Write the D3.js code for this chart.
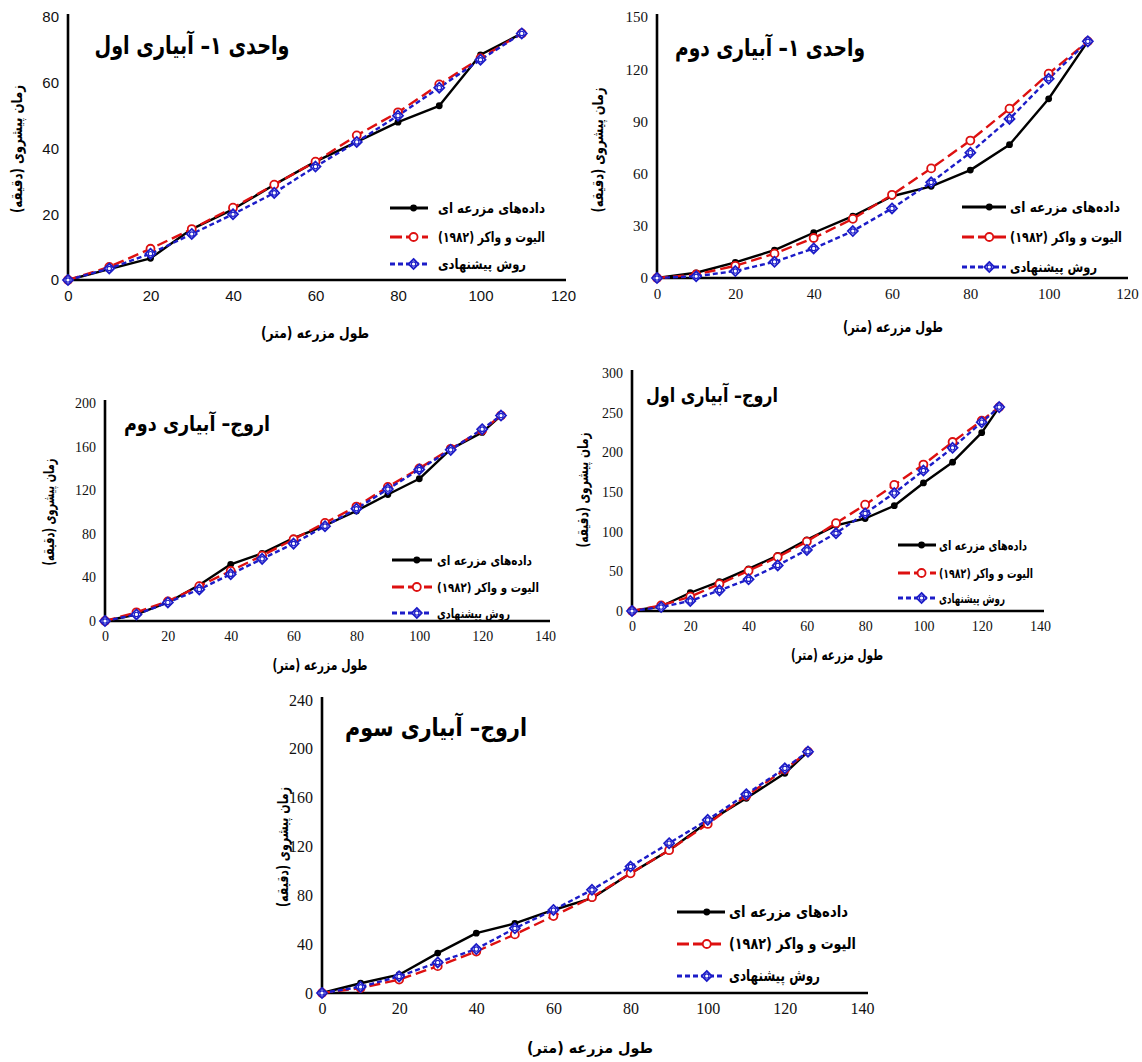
<!DOCTYPE html>
<html><head><meta charset="utf-8">
<script src="https://cdn.jsdelivr.net/npm/d3@7"></script>
<style>body{margin:0;background:#fff}svg{display:block}</style>
</head><body>
<svg id="c" width="1142" height="1062"></svg>
<script>
// ---------- DATA ----------
const xVahed = [0,10,20,30,40,50,60,70,80,90,100,110];
const xOroj  = [0,10,20,30,40,50,60,70,80,90,100,110,120,126];

// واحدی ۱ - آبیاری اول
const p1Field = [0,3.3,6.6,15.5,21.5,29,36,42,48,53,68.5,75];
const p1EW    = [0,4,9.5,15.5,22,29,36,44,51,59.5,67.5,75];
const p1Prop  = [0,3.5,8,14,20,26.5,34.5,42,50,58.5,67,75];
// واحدی ۱ - آبیاری دوم
const p2Field = [0,3,9,16,26,35.5,47,52.7,62,76.6,103,136];
const p2EW    = [0,2,7,14,23,34,47.8,63,79,97.3,117.4,136];
const p2Prop  = [0,1,4,9.3,17,27,40,55,72,91.4,114.5,136];
// اروج - آبیاری دوم
const p3Field = [0,6,17,33,52,62,76,87.6,101,116,130.5,157.7,173,188.5];
const p3EW    = [0,8,18,32,46,60,75,90,105,123,140,158,175,188.5];
const p3Prop  = [0,6,17,29,43,57,71,87,103,121,139,157,176,188.5];
// اروج - آبیاری اول
const p4Field = [0,6,23,37,53,70,89.6,108,116.6,132.7,161.4,187.6,224.8,257];
const p4EW    = [0,7,18,34,50.7,68,87.5,110.7,134,158.9,184.6,213,240,257];
const p4Prop  = [0,5,12.7,26,40,57.5,77,98,123,148.7,177,205.7,238,257];
// اروج - آبیاری سوم
const p5Field = [0,8,15,32.7,49,57,68,77.7,98,117,140,159.5,180,197.7];
const p5EW    = [0,4,11,22,34,48,63,78.5,98,117,138.5,161.5,183,197.7];
const p5Prop  = [0,5,13.6,25,36,53,68,84.5,103.6,122.7,141.8,162.8,184,197.7];

const yTicks1 = [0,20,40,60,80];
const yTicks2 = [0,30,60,90,120,150];
const yTicks3 = [0,40,80,120,160,200];
const yTicks4 = [0,50,100,150,200,250,300];
const yTicks5 = [0,40,80,120,160,200,240];
const xTicksV = [0,20,40,60,80,100,120];
const xTicksO = [0,20,40,60,80,100,120,140];

const titles = ["واحدی ۱– آبیاری اول","واحدی ۱– آبیاری دوم","اروج– آبیاری دوم","اروج– آبیاری اول","اروج– آبیاری سوم"];
const seriesNames = ["داده‌های مزرعه ای","الیوت و واکر (۱۹۸۲)","روش پیشنهادی"];
const xLabel = "طول مزرعه (متر)";
const yLabel = "زمان پیشروی (دقیقه)";

// ---------- LAYOUT ----------
const panels = [
  {x:xVahed, ys:[p1Field,p1EW,p1Prop], xd:120, yd:80, xt:xTicksV, yt:yTicks1, title:titles[0],
   L:68, R:563, T:17, B:280, axEnd:566, tickFont:"Liberation Sans", tickSize:15,
   tx:192, ty:54, ts:25, tw:195, ylx:22, yly:149, ylw:128, xlx:315, xly:338, xlw:108,
   lgX:390, lgL:38, lgT:438, lgW:[107,107,88], lgY:[208,237,264], lgS:14},
  {x:xVahed, ys:[p2Field,p2EW,p2Prop], xd:120, yd:150, xt:xTicksV, yt:yTicks2, title:titles[1],
   L:657, R:1127, T:17, B:278, axEnd:1128, tickFont:"Liberation Serif", tickSize:15,
   tx:770, ty:56, ts:24, tw:190, ylx:603, yly:150, ylw:125, xlx:893, xly:332, xlw:100,
   lgX:962, lgL:44, lgT:1010, lgW:[110,112,87], lgY:[207,237,267], lgS:14},
  {x:xOroj, ys:[p3Field,p3EW,p3Prop], xd:140, yd:200, xt:xTicksO, yt:yTicks3, title:titles[2],
   L:105, R:545, T:403, B:621, axEnd:550, tickFont:"Liberation Serif", tickSize:14,
   tx:197, ty:431, ts:21, tw:146, ylx:54, yly:512, ylw:107, xlx:320, xly:670, xlw:95,
   lgX:392, lgL:40, lgT:437, lgW:[95,102,73], lgY:[560,587,613], lgS:13},
  {x:xOroj, ys:[p4Field,p4EW,p4Prop], xd:140, yd:300, xt:xTicksO, yt:yTicks4, title:titles[3],
   L:632, R:1040, T:373, B:611, axEnd:1044, tickFont:"Liberation Serif", tickSize:14,
   tx:712, ty:402, ts:20, tw:132, ylx:588, yly:490, ylw:115, xlx:837, xly:660, xlw:92,
   lgX:898, lgL:38, lgT:939, lgW:[88,94,66], lgY:[545,573,598], lgS:13},
  {x:xOroj, ys:[p5Field,p5EW,p5Prop], xd:140, yd:240, xt:xTicksO, yt:yTicks5, title:titles[4],
   L:322, R:862, T:700, B:993, axEnd:868, tickFont:"Liberation Serif", tickSize:16,
   tx:436, ty:736, ts:25, tw:182, ylx:288, yly:847, ylw:120, xlx:590, xly:1053, xlw:126,
   lgX:677, lgL:48, lgT:729, lgW:[119,127,91], lgY:[912,944,976], lgS:16}
];

const styles = [
  {color:"#000000", dash:null, w:2.4, marker:"dot"},
  {color:"#dd1010", dash:"11,5", w:2.4, marker:"circle"},
  {color:"#1c1cc8", dash:"5,3", w:2.4, marker:"diamond"}
];
const faFont = "'DejaVu Sans', sans-serif";

const svg = d3.select("#c");

function drawMarker(g, type, cx, cy, st) {
  const r = 4;
  if (type==="dot") {
    g.append("circle").attr("cx",cx).attr("cy",cy).attr("r",3.4).attr("fill",st.color);
  } else if (type==="circle") {
    g.append("circle").attr("cx",cx).attr("cy",cy).attr("r",r).attr("fill","#fff")
      .attr("stroke",st.color).attr("stroke-width",1.8);
  } else {
    g.append("path").attr("d",`M${cx},${cy-r-1}L${cx+r+1},${cy}L${cx},${cy+r+1}L${cx-r-1},${cy}Z`)
      .attr("fill","#fff").attr("stroke",st.color).attr("stroke-width",1.8);
    g.append("circle").attr("cx",cx).attr("cy",cy).attr("r",r*0.55).attr("fill","none")
      .attr("stroke",st.color).attr("stroke-width",1.2);
  }
}

function faText(g, x, y, str, size, width, anchor) {
  return g.append("text").attr("x",x).attr("y",y).attr("text-anchor",anchor||"middle")
    .attr("font-family",faFont).attr("font-weight","bold").attr("font-size",size)
    .attr("fill","#000").attr("textLength",width).attr("lengthAdjust","spacingAndGlyphs")
    .text(str);
}

panels.forEach(p => {
  const g = svg.append("g");
  const xs = d3.scaleLinear().domain([0,p.xd]).range([p.L,p.R]);
  const ys = d3.scaleLinear().domain([0,p.yd]).range([p.B,p.T]);

  // tick labels
  const ax = g.append("g").attr("transform",`translate(0,${p.B})`)
    .call(d3.axisBottom(xs).tickValues(p.xt).tickSize(0).tickPadding(10));
  ax.select(".domain").remove();
  ax.selectAll("text").attr("font-family",p.tickFont).attr("font-size",p.tickSize).attr("fill","#111");
  const ay = g.append("g").attr("transform",`translate(${p.L},0)`)
    .call(d3.axisLeft(ys).tickValues(p.yt).tickSize(0).tickPadding(9));
  ay.select(".domain").remove();
  ay.selectAll("text").attr("font-family",p.tickFont).attr("font-size",p.tickSize).attr("fill","#111");

  // axis lines
  g.append("line").attr("x1",p.L).attr("x2",p.L).attr("y1",p.T-3).attr("y2",p.B+1)
    .attr("stroke","#000").attr("stroke-width",2.6);
  g.append("line").attr("x1",p.L).attr("x2",p.axEnd).attr("y1",p.B).attr("y2",p.B)
    .attr("stroke","#000").attr("stroke-width",2.6);

  // series
  const line = d3.line().x((d,i)=>xs(p.x[i])).y(d=>ys(d));
  p.ys.forEach((vals,si) => {
    const st = styles[si];
    g.append("path").datum(vals).attr("d",line).attr("fill","none")
      .attr("stroke",st.color).attr("stroke-width",st.w)
      .attr("stroke-dasharray",st.dash).attr("stroke-linejoin","round");
  });
  p.ys.forEach((vals,si) => {
    const st = styles[si];
    const mg = g.append("g");
    vals.forEach((v,i)=>drawMarker(mg, st.marker, xs(p.x[i]), ys(v), st));
  });

  // title
  faText(g, p.tx, p.ty, p.title, p.ts, p.tw);

  // axis labels
  faText(g, p.xlx, p.xly, xLabel, 15, p.xlw);
  faText(g, 0, 0, yLabel, 15, p.ylw).attr("transform",`translate(${p.ylx},${p.yly}) rotate(-90)`);

  // legend
  seriesNames.forEach((name,si) => {
    const st = styles[si];
    const y = p.lgY[si];
    g.append("line").attr("x1",p.lgX).attr("x2",p.lgX+p.lgL).attr("y1",y).attr("y2",y)
      .attr("stroke",st.color).attr("stroke-width",3)
      .attr("stroke-dasharray",st.dash ? (si===1?"12,4":"5,3") : null);
    drawMarker(g, st.marker, p.lgX+p.lgL*0.62, y, st);
    faText(g, p.lgT, y+5, name, p.lgS, p.lgW[si], "start");
  });
});
</script>
</body></html>
